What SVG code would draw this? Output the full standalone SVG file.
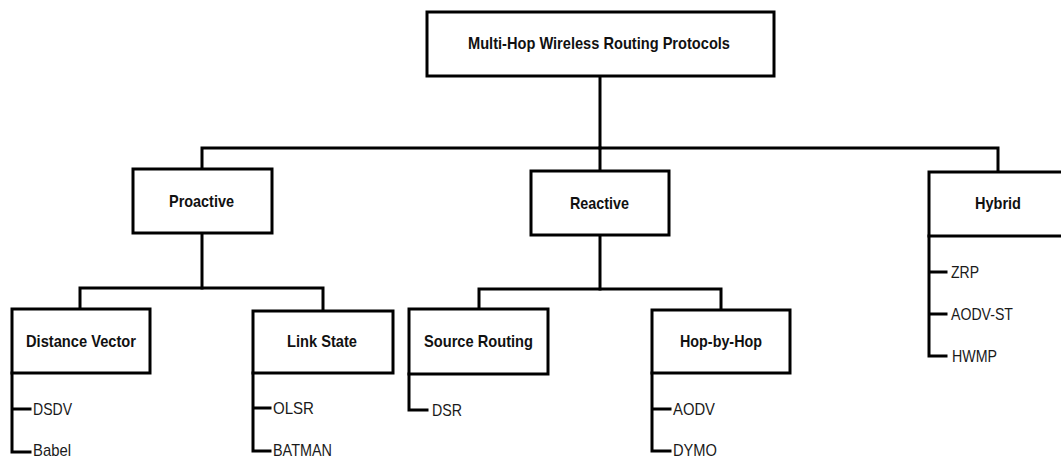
<svg xmlns="http://www.w3.org/2000/svg" width="1061" height="458" viewBox="0 0 1061 458">
  <style>
    .box { fill: #ffffff; stroke: #000000; stroke-width: 3; }
    .conn { fill: none; stroke: #000000; stroke-width: 3; stroke-linejoin: miter; stroke-linecap: square; }
    .b { font-family: "Liberation Sans Narrow", "Liberation Sans", Arial, sans-serif; font-weight: bold; font-size: 17px; fill: #111111; text-anchor: middle; }
    .r { font-family: "Liberation Sans Narrow", "Liberation Sans", Arial, sans-serif; font-size: 17px; fill: #1a1a1a; }
  </style>
  <rect x="0" y="0" width="1061" height="458" fill="#ffffff"/>

  <g id="connectors">
    <path class="conn" d="M600 76 V148"/>
    <path class="conn" d="M202 169 V148 H998 V172"/>
    <path class="conn" d="M600 148 V171"/>
    <path class="conn" d="M202 233 V288"/>
    <path class="conn" d="M80 309 V288 H323 V311"/>
    <path class="conn" d="M600 235 V289"/>
    <path class="conn" d="M479 309 V289 H721 V310"/>
    <path class="conn" d="M12 373 V452 H30 M12 409 H30"/>
    <path class="conn" d="M253 373 V451 H270 M253 408 H270"/>
    <path class="conn" d="M409 374 V410 H427"/>
    <path class="conn" d="M652 373 V451 H670 M652 409 H670"/>
    <path class="conn" d="M929 236 V356 H946 M929 272 H946 M929 314 H946"/>
  </g>

  <g id="root">
    <rect class="box" x="427" y="12" width="347" height="64"/>
    <text class="b" x="599" y="49" textLength="262" lengthAdjust="spacingAndGlyphs">Multi-Hop Wireless Routing Protocols</text>
  </g>

  <g id="proactive">
    <rect class="box" x="133" y="169" width="139" height="64"/>
    <text class="b" x="201.5" y="207" textLength="65" lengthAdjust="spacingAndGlyphs">Proactive</text>
  </g>

  <g id="reactive">
    <rect class="box" x="531" y="171" width="138" height="64"/>
    <text class="b" x="599.5" y="209" textLength="59" lengthAdjust="spacingAndGlyphs">Reactive</text>
  </g>

  <g id="hybrid">
    <rect class="box" x="929" y="172" width="140" height="64"/>
    <text class="b" x="998" y="209" textLength="46" lengthAdjust="spacingAndGlyphs">Hybrid</text>
    <text class="r" x="951" y="278" textLength="28" lengthAdjust="spacingAndGlyphs">ZRP</text>
    <text class="r" x="951" y="320" textLength="62" lengthAdjust="spacingAndGlyphs">AODV-ST</text>
    <text class="r" x="952" y="362" textLength="45" lengthAdjust="spacingAndGlyphs">HWMP</text>
  </g>

  <g id="distance-vector">
    <rect class="box" x="12" y="309" width="138" height="64"/>
    <text class="b" x="81" y="347" textLength="110" lengthAdjust="spacingAndGlyphs">Distance Vector</text>
    <text class="r" x="33" y="415" textLength="39" lengthAdjust="spacingAndGlyphs">DSDV</text>
    <text class="r" x="33" y="456" textLength="38" lengthAdjust="spacingAndGlyphs">Babel</text>
  </g>

  <g id="link-state">
    <rect class="box" x="253" y="311" width="140" height="62"/>
    <text class="b" x="322" y="347" textLength="70" lengthAdjust="spacingAndGlyphs">Link State</text>
    <text class="r" x="273" y="414" textLength="41" lengthAdjust="spacingAndGlyphs">OLSR</text>
    <text class="r" x="273" y="456" textLength="59" lengthAdjust="spacingAndGlyphs">BATMAN</text>
  </g>

  <g id="source-routing">
    <rect class="box" x="409" y="309" width="139" height="65"/>
    <text class="b" x="478.5" y="347" textLength="109" lengthAdjust="spacingAndGlyphs">Source Routing</text>
    <text class="r" x="432" y="416" textLength="30" lengthAdjust="spacingAndGlyphs">DSR</text>
  </g>

  <g id="hop-by-hop">
    <rect class="box" x="652" y="310" width="138" height="63"/>
    <text class="b" x="721" y="347" textLength="82" lengthAdjust="spacingAndGlyphs">Hop-by-Hop</text>
    <text class="r" x="673" y="415" textLength="42" lengthAdjust="spacingAndGlyphs">AODV</text>
    <text class="r" x="673" y="456" textLength="44" lengthAdjust="spacingAndGlyphs">DYMO</text>
  </g>
</svg>
